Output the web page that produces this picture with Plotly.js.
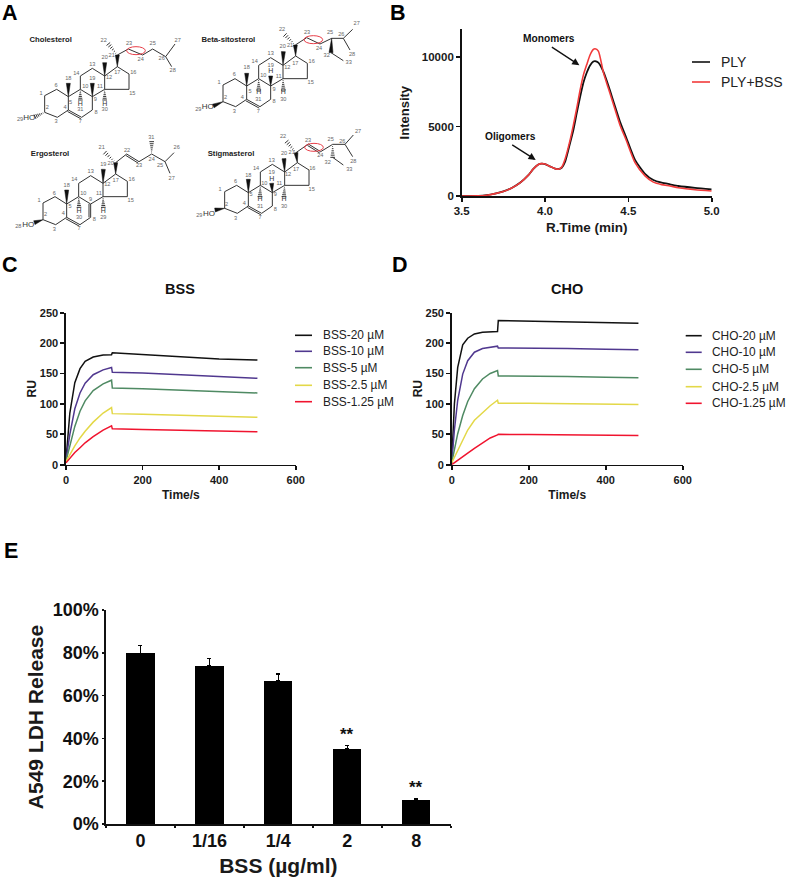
<!DOCTYPE html>
<html><head><meta charset="utf-8">
<script src="https://cdn.plot.ly/plotly-3.0.1.min.js"></script>
<style>html,body{margin:0;padding:0;background:#fff}#c{width:787px;height:881px}</style>
</head><body><div id="c"></div>
<script>
const W=787,H=881,FONT='"Liberation Sans", Arial, sans-serif';
// ---------- Panel B ----------
const rtime=[3.5,3.6,3.65,3.7,3.75,3.8,3.85,3.9,3.93,3.96,3.98,4.0,4.03,4.06,4.08,4.1,4.12,4.15,4.17,4.19,4.21,4.23,4.25,4.27,4.29,4.3,4.32,4.35,4.38,4.414,4.45,4.486,4.54,4.6,4.65,4.7,4.75,4.8,4.9,5.0];
const plyBlack=[0,10,60,170,330,580,950,1500,1950,2270,2330,2300,2130,1970,1930,2030,2450,3800,4750,5950,7100,8150,8870,9400,9680,9710,9600,8950,7950,6680,5350,4250,2600,1600,1150,960,840,720,580,480];
const plyRed=[0,10,60,170,330,580,950,1500,1950,2270,2330,2300,2130,1970,1930,2080,2650,4000,5100,6300,7600,8700,9450,10150,10550,10600,10430,8900,7750,6460,5100,4050,2400,1450,1000,820,720,600,450,360];
// ---------- Panel C ----------
const tBSS=[0,10,23,36.6,50,71,97,119,121,200,300,400,500];
const bss20=[7,85,135,158,170,177,180.5,181,184,181,177,174,172];
const bss10=[8,50,92,118,134,148,156,160,152,151,148,145,142];
const bss5=[6,33,63,88,105,122,133,139,126,125,123,120.5,118];
const bss25=[5,17,31,44,55,70,85,94,84,83,81.5,80,78];
const bss125=[3,11,20,28,36,46,57,64,59,58,57,55.5,54];
// ---------- Panel D ----------
const tCHO=[0,7,15.6,28.6,41.6,59,80,100,119,121,200,300,400,485];
const cho20=[3,100,160,197,208,215,218,219,219,237,236,234.5,233.5,232.5];
const cho10=[3,57,106,149,171,185,191,193,195,192,192,191,190,189];
const cho5=[3,25,51,81,104,125,141,150,155,146,146,145,144,143];
const cho25=[3,12,25,42,57,73,86,97,106,101,101,100.5,100,99];
const cho125=[0,3,7,13,19,27,36,44,49,50,49.5,49,48.5,48];
const kineticColors=['#111111','#50388f','#4f8a63','#e3d848','#f0142f'];
const bssNames=['BSS-20 µM','BSS-10 µM','BSS-5 µM','BSS-2.5 µM','BSS-1.25 µM'];
const choNames=['CHO-20 µM','CHO-10 µM','CHO-5 µM','CHO-2.5 µM','CHO-1.25 µM'];
// ---------- Panel E ----------
const doses=['0','1/16','1/4','2','8'];
const ldh=[79.7,73.8,67,35,11.2];
const ldhErr=[3.8,3.6,3,1.6,0.6];
const ldhTicks=[0,20,40,60,80,100];
// ---------- Panel A : molecule atom maps, in a 1170x810 diagram space ----------
const ring={1:[134,287],2:[134,337],3:[172,352],4:[205,330],5:[205,290],6:[170,268],7:[245,352],8:[277,330],9:[277,290],10:[241,268],11:[314,268],12:[314,228],13:[277,205],14:[241,228],15:[387,268],16:[387,222],17:[352,200]};
const ringBonds=[[1,2],[2,3],[3,4],[4,5],[5,6],[6,1],[7,8],[9,10],[10,5],[9,11],[11,12],[12,13],[13,14],[14,10],[11,15],[15,16],[16,17],[17,12]];
const molecules=[
 {name:'Cholesterol',title:[152,120],off:[0,0],ho:[88,353],
  extra:{a:[352,165],b:[385,147],c:[428,165],d:[458,147],e:[497,170],f:[525,132],g:[515,200],h18:[205,250],h19:[277,250],h20:[314,188],m22:[325,132],Ha:[241,300],Hb:[314,300],O:[105,350]},
  bonds:[['a','b'],['b','c'],['c','d'],['d','e'],['e','f'],['e','g'],[8,9]],doubles:[[4,7]],
  wedges:[[5,'h18'],[9,'h19'],[12,'h20'],[17,'a']],hashes:[['a','m22'],[10,'Ha'],[11,'Hb'],[2,'O']],
  hLabels:[[241,312],[314,312]],
  labels:[['1',123,282],['2',142,322],['3',168,366],['4',195,322],['5',212,308],['6',168,258],['7',241,366],['8',288,338],['9',286,300],['10',256,260],['11',300,260],['12',327,232],['13',277,193],['14',229,220],['15',397,280],['16',400,218],['17',352,218],['18',205,236],['19',277,236],['20',314,172],['21',335,168],['22',311,122],['23',387,132],['24',422,178],['25',458,132],['26',485,175],['27',533,122],['28',518,212],['29',60,360],['30',314,330],['31',241,330]]},
 {name:'Beta-sitosterol',title:[685,120],off:[535,-32],ho:[623,322],
  extra:{a:[886,135],b:[920,113],c:[960,132],d:[995,115],e:[1030,115],f:[1058,88],g:[1050,150],p:[993,158],q:[1030,182],h18:[740,220],h20:[850,155],m22:[855,105],Ha:[776,270],Hc:[812,228],Hb:[850,270],O:[640,318]},
  bonds:[['a','b'],['b','c'],['c','d'],['d','e'],['e','f'],['e','g'],['p','q'],[8,9]],doubles:[[4,7]],
  wedges:[[5,'h18'],[12,'h20'],[17,'a'],['d','p'],[9,'Hc'],[2,'O']],hashes:[['a','m22'],[10,'Ha'],[11,'Hb']],
  hLabels:[[776,278],[812,215],[850,278]],
  labels:[['1',657,248],['2',677,292],['3',703,334],['4',727,292],['5',750,275],['6',703,224],['7',775,334],['8',822,306],['9',822,268],['10',790,228],['11',836,230],['12',862,202],['13',812,162],['14',764,186],['15',932,248],['16',935,186],['17',886,190],['18',740,204],['19',812,197],['20',848,141],['21',870,137],['22',846,90],['23',921,99],['24',957,145],['25',990,99],['26',1024,105],['27',1070,72],['28',1056,164],['29',595,328],['30',850,298],['31',775,300],['32',980,166],['33',1046,189]]},
 {name:'Ergosterol',title:[150,462],off:[-5,322],ho:[85,676],
  extra:{a:[347,488],b:[380,462],c:[417,485],d:[455,462],e:[495,485],f:[522,458],g:[510,520],h18:[200,570],h20:[310,508],m22:[315,458],Ha:[237,622],Hb:[310,622],m31:[455,425],O:[103,668]},
  bonds:[['a','b'],['c','d'],['d','e'],['e','f'],['e','g']],doubles:[[4,7],[9,8],['b','c']],
  wedges:[[5,'h18'],[12,'h20'],[17,'a'],[2,'O']],hashes:[['a','m22'],[10,'Ha'],[11,'Hb'],['d','m31']],
  hLabels:[[237,634],[310,634]],
  labels:[['1',117,602],['2',137,645],['3',163,690],['4',190,642],['5',210,620],['6',163,580],['7',237,687],['8',283,660],['9',272,600],['10',250,582],['11',297,582],['12',322,555],['13',272,516],['14',223,540],['15',392,602],['16',395,540],['17',347,541],['18',200,558],['19',310,495],['20',332,490],['21',305,443],['22',381,453],['23',417,498],['24',455,480],['25',480,498],['26',530,443],['27',515,535],['28',55,681],['29',310,652],['30',237,652],['31',454,412]]},
 {name:'Stigmasterol',title:[693,462],off:[540,288],ho:[627,642],
  extra:{a:[888,458],b:[925,432],c:[962,455],d:[998,433],e:[1035,433],f:[1060,405],g:[1058,470],p:[998,472],q:[1030,495],h18:[745,538],h20:[852,476],m22:[860,425],Ha:[780,590],Hc:[815,550],Hb:[852,590],O:[645,630]},
  bonds:[['a','b'],['c','d'],['d','e'],['e','f'],['e','g'],['p','q'],[8,9]],doubles:[[4,7],['b','c']],
  wedges:[[5,'h18'],[12,'h20'],[17,'a'],[9,'Hc'],[2,'O']],hashes:[['a','m22'],[10,'Ha'],[11,'Hb'],['d','p']],
  hLabels:[[780,598],[815,538],[852,598]],
  labels:[['1',660,570],['2',680,613],['3',707,655],['4',733,612],['5',753,583],['6',707,545],['7',780,653],['8',826,628],['9',826,585],['10',793,550],['11',838,550],['12',864,523],['13',815,483],['14',768,507],['15',935,570],['16',937,507],['17',888,510],['18',745,526],['19',815,518],['20',852,462],['21',875,458],['22',849,411],['23',924,421],['24',961,466],['25',992,420],['26',1027,425],['27',1074,394],['28',1060,485],['29',598,648],['30',852,620],['31',780,620],['32',983,487],['33',1048,510]]}
];
const bondEllipses=[[408,152],[940,119],[942,442]];

const dx=(l,r)=>[l/W,r/W], dy=(t,b)=>[1-b/H,1-t/H];
const traces=[];
function axis(o){return Object.assign({showgrid:false,zeroline:false,showline:true,linecolor:'#111',linewidth:1.6,ticks:'outside',tickcolor:'#111',tickwidth:1.6,ticklen:4,automargin:false,fixedrange:true,
  tickfont:{family:FONT,size:11,color:'#1a1a1a',weight:'bold'}},o);}
function atitle(t,size,standoff){return {text:'<b>'+t+'</b>',font:{family:FONT,size:size,color:'#1a1a1a'},standoff:standoff};}

// Panel A diagrams
molecules.forEach(m=>{
  const pos=k=>{ if(m.extra[k])return m.extra[k]; const r=ring[k]; return [r[0]+m.off[0],r[1]+m.off[1]]; };
  const lx=[],ly=[];
  ringBonds.concat(m.bonds).forEach(([u,v])=>{ const a=pos(u),b=pos(v); lx.push(a[0],b[0],null); ly.push(a[1],b[1],null); });
  m.doubles.forEach(([u,v])=>{ const a=pos(u),b=pos(v); const d=Math.hypot(b[0]-a[0],b[1]-a[1]),nx=-(b[1]-a[1])/d,ny=(b[0]-a[0])/d;
    lx.push(a[0],b[0],null); ly.push(a[1],b[1],null);
    lx.push(a[0]+nx*5,b[0]+nx*5,null); ly.push(a[1]+ny*5,b[1]+ny*5,null); });
  m.hashes.forEach(([u,v])=>{ const a=pos(u),b=pos(v); const d=Math.hypot(b[0]-a[0],b[1]-a[1]),nx=-(b[1]-a[1])/d,ny=(b[0]-a[0])/d;
    for(let i=1;i<=6;i++){const f=i/6,w=f*7,cx=a[0]+(b[0]-a[0])*f,cy=a[1]+(b[1]-a[1])*f;
      lx.push(cx-nx*w,cx+nx*w,null); ly.push(cy-ny*w,cy+ny*w,null);} });
  traces.push({x:lx,y:ly,xaxis:'x5',yaxis:'y5',mode:'lines',line:{color:'#333',width:1},hoverinfo:'skip',showlegend:false,name:m.name+' bonds'});
  const wx=[],wy=[];
  m.wedges.forEach(([u,v])=>{ const a=pos(u),b=pos(v); const d=Math.hypot(b[0]-a[0],b[1]-a[1]),nx=-(b[1]-a[1])/d,ny=(b[0]-a[0])/d;
    wx.push(a[0],b[0]+nx*6,b[0]-nx*6,a[0],null); wy.push(a[1],b[1]+ny*6,b[1]-ny*6,a[1],null); });
  traces.push({x:wx,y:wy,xaxis:'x5',yaxis:'y5',mode:'lines',fill:'toself',fillcolor:'#111',line:{color:'#111',width:0.5},hoverinfo:'skip',showlegend:false,name:m.name+' wedges'});
  traces.push({x:m.labels.map(l=>l[1]),y:m.labels.map(l=>l[2]),text:m.labels.map(l=>l[0]),xaxis:'x5',yaxis:'y5',mode:'text',textfont:{family:FONT,size:5.6,color:'#666'},textposition:'middle center',hoverinfo:'skip',showlegend:false,name:m.name+' numbering'});
  traces.push({x:m.hLabels.map(l=>l[0]),y:m.hLabels.map(l=>l[1]),text:m.hLabels.map(()=>'H'),xaxis:'x5',yaxis:'y5',mode:'text',textfont:{family:FONT,size:7,color:'#333'},textposition:'middle center',hoverinfo:'skip',showlegend:false,name:m.name+' H'});
  traces.push({x:[m.ho[0]],y:[m.ho[1]],text:['HO'],xaxis:'x5',yaxis:'y5',mode:'text',textfont:{family:FONT,size:8,color:'#333'},textposition:'middle center',hoverinfo:'skip',showlegend:false,name:m.name+' HO'});
  traces.push({x:[m.title[0]],y:[m.title[1]],text:['<b>'+m.name+'</b>'],xaxis:'x5',yaxis:'y5',mode:'text',textfont:{family:FONT,size:7.7,color:'#222'},textposition:'middle center',hoverinfo:'skip',showlegend:false,name:m.name});
});

// Panel B
traces.push({x:rtime,y:plyBlack,name:'PLY',mode:'lines',line:{color:'#111',width:1.8,shape:'spline',smoothing:0.6},cliponaxis:false,showlegend:false});
traces.push({x:rtime,y:plyRed,name:'PLY+BSS',mode:'lines',line:{color:'#f23b3b',width:1.6,shape:'spline',smoothing:0.6},cliponaxis:false,showlegend:false});
// Panels C, D
[bss20,bss10,bss5,bss25,bss125].forEach((v,i)=>traces.push({x:tBSS,y:v,xaxis:'x2',yaxis:'y2',name:bssNames[i],mode:'lines',line:{color:kineticColors[i],width:1.5},cliponaxis:false,showlegend:false}));
[cho20,cho10,cho5,cho25,cho125].forEach((v,i)=>traces.push({x:tCHO,y:v,xaxis:'x3',yaxis:'y3',name:choNames[i],mode:'lines',line:{color:kineticColors[i],width:1.5},cliponaxis:false,showlegend:false}));
// Panel E
traces.push({type:'bar',x:doses,y:ldh,xaxis:'x4',yaxis:'y4',width:0.41,marker:{color:'#000'},name:'A549 LDH Release',showlegend:false,
  error_y:{type:'data',symmetric:false,array:ldhErr,arrayminus:ldhErr.map(()=>0),color:'#000',thickness:1.5,width:2}});

const ann=[],shapes=[];
function px(x,y,text,size,opts){ann.push(Object.assign({xref:'paper',yref:'paper',x:x/W,y:1-y/H,text:text,showarrow:false,xanchor:'center',yanchor:'middle',font:{family:FONT,size:size,color:'#111'}},opts||{}));}
[['A',10,12.5],['B',398,12.5],['C',10,265],['D',400,265],['E',11,551]].forEach(l=>px(l[1],l[2],'<b>'+l[0]+'</b>',21.5,{font:{family:FONT,size:21.5,color:'#000'}}));
px(180,289,'<b>BSS</b>',14.5); px(566.7,289,'<b>CHO</b>',14.5);
px(549.3,39,'<b>Monomers</b>',10.2); px(510.3,136,'<b>Oligomers</b>',10.2);
ann.push({x:4.206,y:9420,xref:'x',yref:'y',ax:-29,ay:-19,axref:'pixel',ayref:'pixel',text:'',showarrow:true,arrowhead:2,arrowsize:1.1,arrowwidth:1.3,arrowcolor:'#111'});
ann.push({x:3.944,y:2600,xref:'x',yref:'y',ax:-25,ay:-16,axref:'pixel',ayref:'pixel',text:'',showarrow:true,arrowhead:2,arrowsize:1.1,arrowwidth:1.3,arrowcolor:'#111'});
ann.push({x:3,y:42,xref:'x4',yref:'y4',text:'<b>**</b>',showarrow:false,yanchor:'middle',font:{family:FONT,size:17,color:'#111'}});
ann.push({x:4,y:17,xref:'x4',yref:'y4',text:'<b>**</b>',showarrow:false,yanchor:'middle',font:{family:FONT,size:17,color:'#111'}});
function key(x0,x1,y,color,label,tx,size){
  shapes.push({type:'line',xref:'paper',yref:'paper',x0:x0/W,x1:x1/W,y0:1-y/H,y1:1-y/H,line:{color:color,width:1.6}});
  px(tx,y,label,size,{xanchor:'left',font:{family:FONT,size:size,color:'#222'}});
}
key(692,710,62,'#111','PLY',718.5,14); key(692,710,82,'#f23b3b','PLY+BSS',718.5,14);
[335.3,351.3,367.7,385.3,401.7].forEach((y,i)=>key(295,312,y,kineticColors[i],bssNames[i],320.5,11.9));
[335.7,352.3,369.3,386.7,403.3].forEach((y,i)=>key(685.7,701.7,y,kineticColors[i],choNames[i],709.5,11.9));
bondEllipses.forEach(c=>shapes.push({type:'circle',xref:'x5',yref:'y5',x0:c[0]-28,x1:c[0]+28,y0:c[1]-12,y1:c[1]+12,line:{color:'#e8404a',width:1}}));

const hidden={visible:false,fixedrange:true};
const layout={width:W,height:H,margin:{l:0,r:0,t:0,b:0},paper_bgcolor:'#fff',plot_bgcolor:'rgba(0,0,0,0)',showlegend:false,bargap:0,font:{family:FONT},
 xaxis:axis({domain:dx(461.7,711.7),range:[3.5,5],tickvals:[3.5,4,4.5,5],ticktext:['3.5','4.0','4.5','5.0'],tickfont:{family:FONT,size:11.5,color:'#1a1a1a',weight:'bold'},title:atitle('R.Time (min)',13.5,6),anchor:'y'}),
 yaxis:axis({domain:dy(29.3,196),range:[0,12000],tickvals:[0,5000,10000],ticktext:['0','5000','10000'],tickfont:{family:FONT,size:11.5,color:'#1a1a1a',weight:'bold'},title:atitle('Intensity',13,9),anchor:'x'}),
 xaxis2:axis({domain:dx(66,295.7),range:[0,600],tickvals:[0,200,400,600],title:atitle('Time/s',12,6),anchor:'y2'}),
 yaxis2:axis({domain:dy(312.7,464.7),range:[0,250],tickvals:[0,50,100,150,200,250],title:atitle('RU',12,0),anchor:'x2'}),
 xaxis3:axis({domain:dx(451.7,682.7),range:[0,600],tickvals:[0,200,400,600],title:atitle('Time/s',12,6),anchor:'y3'}),
 yaxis3:axis({domain:dy(312.7,464.7),range:[0,250],tickvals:[0,50,100,150,200,250],title:atitle('RU',12,0),anchor:'x3'}),
 xaxis4:axis({domain:dx(106,450.7),type:'category',categoryorder:'array',categoryarray:doses,range:[-0.5,4.5],tickson:'boundaries',ticklen:2,tickfont:{family:FONT,size:18,color:'#111',weight:'bold'},title:atitle('BSS (µg/ml)',21,8),anchor:'y4'}),
 yaxis4:axis({domain:dy(610,824),range:[0,100],tickvals:ldhTicks,ticktext:ldhTicks.map(v=>v+'%'),ticklen:2,tickfont:{family:FONT,size:18,color:'#111',weight:'bold'},title:atitle('A549 LDH Release',21,3),anchor:'x4'}),
 xaxis5:Object.assign({domain:dx(0,390),range:[0,1170],anchor:'y5'},hidden),
 yaxis5:Object.assign({domain:dy(0,270),range:[810,0],anchor:'x5'},hidden),
 annotations:ann,shapes:shapes};
Plotly.newPlot('c',traces,layout,{displayModeBar:false,staticPlot:true});
</script></body></html>
